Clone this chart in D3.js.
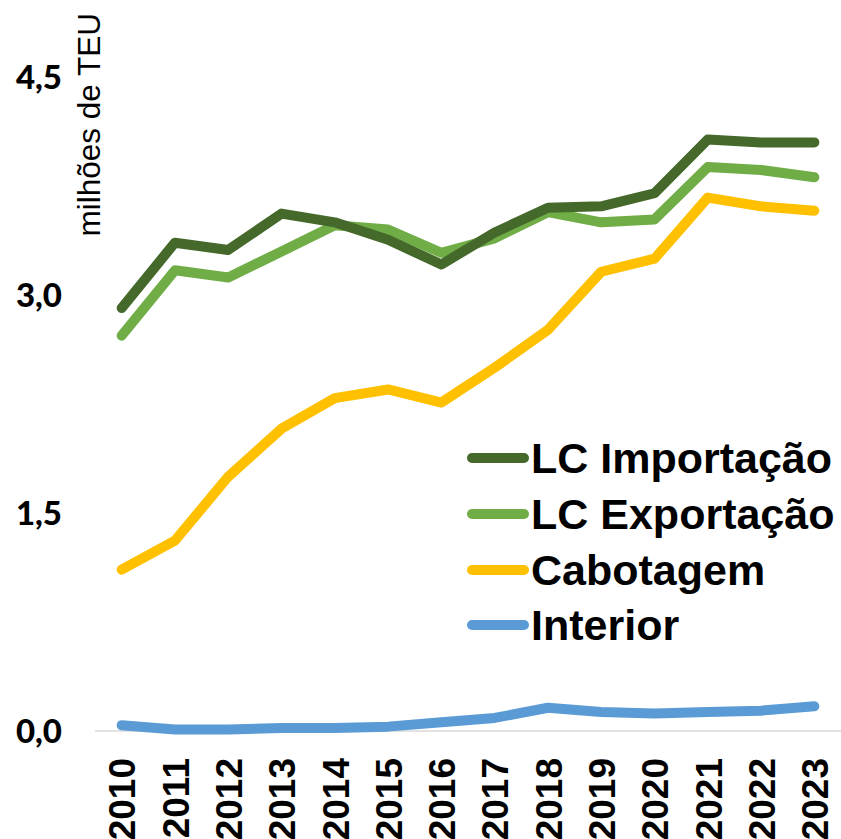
<!DOCTYPE html>
<html>
<head>
<meta charset="utf-8">
<script src="https://cdn.jsdelivr.net/npm/d3@7"></script>
<style>
  body { margin: 0; background: #fff; }
  svg { display: block; }
</style>
</head>
<body>
<svg></svg>
<script>
let years = [2010, 2011, 2012, 2013, 2014, 2015, 2016, 2017, 2018, 2019, 2020, 2021, 2022, 2023]

let lcImportacao = [2.91, 3.36, 3.31, 3.56, 3.50, 3.38, 3.21, 3.43, 3.60, 3.61, 3.70, 4.07, 4.05, 4.05]
let lcExportacao = [2.72, 3.17, 3.12, 3.30, 3.48, 3.45, 3.29, 3.39, 3.57, 3.50, 3.52, 3.88, 3.86, 3.81]
let cabotagem = [1.11, 1.31, 1.75, 2.08, 2.29, 2.35, 2.26, 2.50, 2.76, 3.16, 3.25, 3.67, 3.61, 3.58]
let interior = [0.04, 0.01, 0.01, 0.02, 0.02, 0.03, 0.06, 0.09, 0.16, 0.13, 0.12, 0.13, 0.14, 0.17]

let seriesNames = ['LC Importação', 'LC Exportação', 'Cabotagem', 'Interior']
let seriesColors = ['#44692B', '#70AD47', '#FFC000', '#5B9BD5']
let yTicks = [0, 1.5, 3.0, 4.5]

let width = 841
let height = 839

let svg = d3.select('svg')
    .attr('width', width)
    .attr('height', height)

let ptBR = d3.formatLocale({ decimal: ',', thousands: '.', grouping: [3], currency: ['R$', ''] })
let fmt = ptBR.format('.1f')

let xScale = d3.scalePoint()
    .domain(years)
    .range([95, 841])
    .padding(0.5)

let yScale = d3.scaleLinear()
    .domain([0, 4.5])
    .range([731, 77])

// baseline
svg.append('line')
    .attr('x1', 95)
    .attr('x2', 841)
    .attr('y1', yScale(0))
    .attr('y2', yScale(0))
    .attr('stroke', '#D9D9D9')
    .attr('stroke-width', 1.5)

// y axis
let yAxis = d3.axisLeft(yScale)
    .tickValues(yTicks)
    .tickSize(0)
    .tickPadding(0)
    .tickFormat(fmt)

let yG = svg.append('g')
    .attr('transform', 'translate(62, 0)')
    .call(yAxis)
yG.select('.domain').remove()
yG.selectAll('text')
    .attr('font-family', 'Lato, sans-serif')
    .attr('font-weight', 900)
    .attr('font-size', 33)
    .attr('fill', '#000')
    .attr('dy', '0.36em')

// x axis
let xAxis = d3.axisBottom(xScale)
    .tickSize(0)
    .tickPadding(0)

let xG = svg.append('g')
    .attr('transform', 'translate(0, ' + yScale(0) + ')')
    .call(xAxis)
xG.select('.domain').remove()
xG.selectAll('text')
    .attr('font-family', '"Liberation Sans", Arial, sans-serif')
    .attr('font-weight', 'bold')
    .attr('font-size', 37)
    .attr('fill', '#000')
    .attr('text-anchor', 'end')
    .attr('transform', 'rotate(-90)')
    .attr('x', -27)
    .attr('y', 0)
    .attr('dy', '0.36em')

// y title
svg.append('text')
    .attr('transform', 'translate(100, 13) rotate(-90)')
    .attr('text-anchor', 'end')
    .attr('font-family', '"Liberation Sans", Arial, sans-serif')
    .attr('font-size', 31.5)
    .attr('fill', '#000')
    .text('milhões de TEU')

// lines
let allSeries = [lcImportacao, lcExportacao, cabotagem, interior]

let line = d3.line()
    .x((d, i) => xScale(years[i]))
    .y((d) => yScale(d))

// draw bottom-up so LC Importação ends on top like the reference
let drawOrder = [3, 2, 1, 0]
drawOrder.forEach((k) => {
    svg.append('path')
        .datum(allSeries[k])
        .attr('d', line)
        .attr('fill', 'none')
        .attr('stroke', seriesColors[k])
        .attr('stroke-width', 10)
        .attr('stroke-linecap', 'round')
        .attr('stroke-linejoin', 'round')
})

// legend
let legendY = [458, 514, 570, 625]
let legend = svg.append('g')

seriesNames.forEach((name, i) => {
    legend.append('line')
        .attr('x1', 472)
        .attr('x2', 524)
        .attr('y1', legendY[i])
        .attr('y2', legendY[i])
        .attr('stroke', seriesColors[i])
        .attr('stroke-width', 10)
        .attr('stroke-linecap', 'round')
    legend.append('text')
        .attr('x', 531)
        .attr('y', legendY[i] + 15)
        .attr('font-family', '"Liberation Sans", Arial, sans-serif')
        .attr('font-weight', 'bold')
        .attr('font-size', 43)
        .attr('fill', '#000')
        .text(name)
})
</script>
</body>
</html>
